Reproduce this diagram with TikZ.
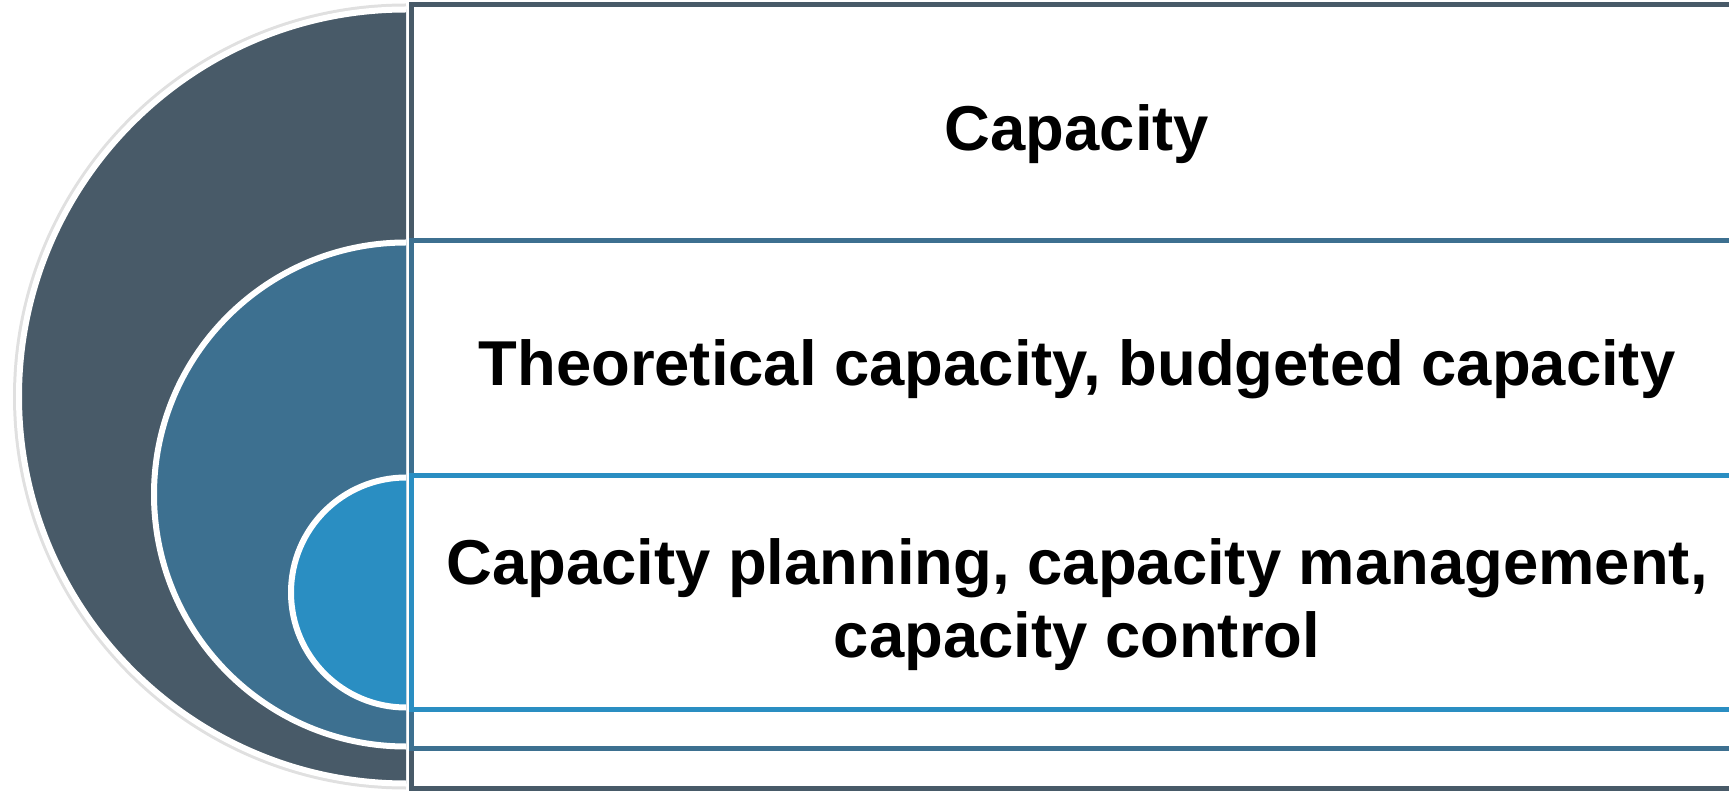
\documentclass[tikz,border=0pt]{standalone}
\usepackage{fontspec}
\setmainfont{Liberation Sans}
\usepackage{tikz}
\definecolor{ink1}{HTML}{485A68}
\definecolor{ink2}{HTML}{3D7090}
\definecolor{ink3}{HTML}{2A8EC2}

\begin{document}
\begin{tikzpicture}[x=0.5pt, y=0.5pt,
  band/.style={draw=#1, fill=white, line width=2.5pt, inner sep=0pt, anchor=south west, minimum width=668pt},
  rim/.style={white, line width=3pt},
  lbl/.style={font=\bfseries\fontsize{31.7}{36.5}\selectfont, align=center}]
\clip[use as bounding box] (0,0) rectangle (1729,793);
\node[band=ink1, minimum height=391.5pt] (cap) at (409,2.5) {};
\draw[black!12, line width=2pt] (cap.west) ++(-3,391) arc[start angle=90, end angle=270, radius=391];
\fill[ink1] (cap.west) ++(-3,387) arc[start angle=90, end angle=270, radius=387] -- cycle;
\draw[rim] (cap.west) ++(-3,387) arc[start angle=90, end angle=270, radius=387];
\node[band=ink2, minimum height=254pt] (theo) at (409,42) {};
\fill[ink2] (theo.west) ++(-3,252) arc[start angle=90, end angle=270, radius=252] -- cycle;
\draw[rim] (theo.west) ++(-3,252) arc[start angle=90, end angle=270, radius=252];
\node[band=ink3, minimum height=117pt] (plan) at (409,81) {};
\fill[ink3] (plan.west) ++(-3,115) arc[start angle=90, end angle=270, radius=115] -- cycle;
\draw[rim] (plan.west) ++(-3,115) arc[start angle=90, end angle=270, radius=115];
\node[lbl, anchor=base] (capt) at (1077,642) {Capacity};
\node[lbl, anchor=base] (theot) at (1077,407) {Theoretical capacity, budgeted capacity};
\node[lbl] (plant) at (1077,188.8) {Capacity planning, capacity management,\\capacity control};
\end{tikzpicture}
\end{document}
